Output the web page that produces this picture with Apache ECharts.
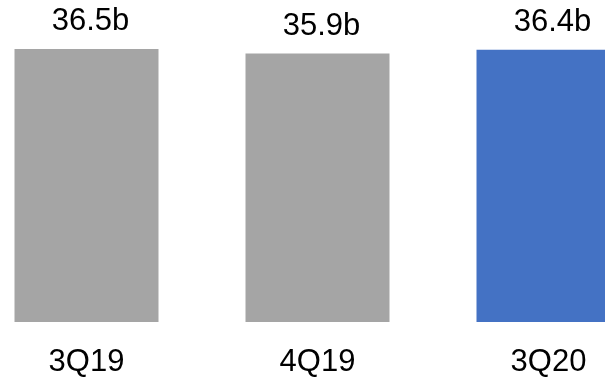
<!DOCTYPE html>
<html>
<head>
<meta charset="utf-8">
<style>
  html, body { margin: 0; padding: 0; background: #fff; overflow: hidden; }
  body { width: 605px; height: 378px; position: relative; }
  /* plot is wider than the page so the last bar runs off the right edge */
  #chart { position: absolute; left: -29px; top: 0; width: 693px; height: 378px; }
</style>
<script src="https://cdn.jsdelivr.net/npm/echarts@6/dist/echarts.min.js"></script>
</head>
<body>
<div id="chart"></div>
<script>
// Quarterly totals (billions)
const quarters = ['3Q19', '4Q19', '3Q20'];
const totals = [36.5, 35.9, 36.4];
const barColors = ['#A5A5A5', '#A5A5A5', '#4472C4'];

const chart = echarts.init(document.getElementById('chart'), null, { renderer: 'canvas' });

chart.setOption({
  animation: false,
  backgroundColor: '#ffffff',
  grid: { left: 0, right: 0, top: 49, bottom: 55 },
  xAxis: {
    type: 'category',
    data: quarters,
    axisLine: { show: false },
    axisTick: { show: false },
    axisLabel: {
      margin: 25,
      color: '#000000',
      fontFamily: 'Liberation Sans, Arial, sans-serif',
      fontSize: 31
    }
  },
  yAxis: {
    type: 'value',
    min: 0,
    max: 36.5,
    show: false,
    splitLine: { show: false }
  },
  series: [{
    type: 'bar',
    barWidth: 144,
    data: totals.map((v, i) => ({ value: v, itemStyle: { color: barColors[i] } })),
    label: {
      show: true,
      position: 'top',
      distance: 12,
      offset: [4, 0],
      color: '#000000',
      fontFamily: 'Liberation Sans, Arial, sans-serif',
      fontSize: 31,
      formatter: p => p.value.toFixed(1) + 'b'
    }
  }]
});
</script>
</body>
</html>
